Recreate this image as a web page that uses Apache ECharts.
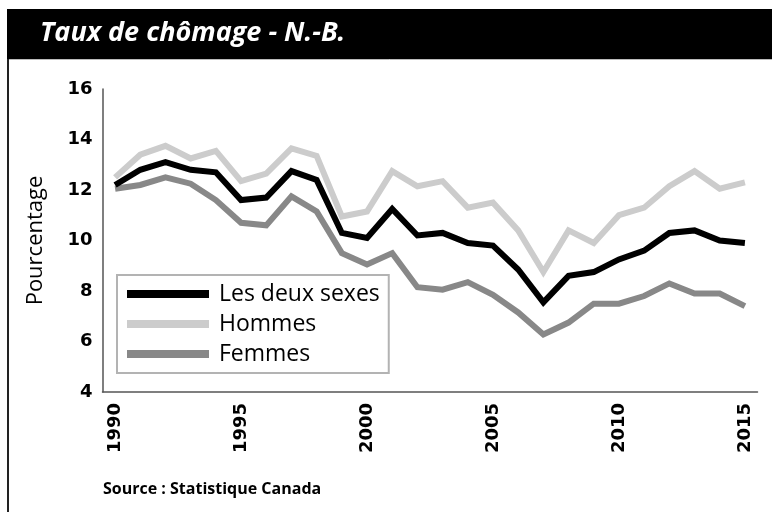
<!DOCTYPE html>
<html>

<head>
    <meta charset="utf-8">
</head>

<body style="margin: 0; background: #fff">
    <div id="container" style="width: 772px; height: 512px"></div>
    <script type="text/javascript" src="https://cdn.jsdelivr.net/npm/echarts/dist/echarts.min.js"></script>
    <script>
        var years = ['1990', '1991', '1992', '1993', '1994', '1995', '1996', '1997', '1998', '1999',
            '2000', '2001', '2002', '2003', '2004', '2005', '2006', '2007', '2008', '2009',
            '2010', '2011', '2012', '2013', '2014', '2015']
        var lesDeuxSexes = [12.2, 12.8, 13.1, 12.8, 12.7, 11.6, 11.7, 12.75, 12.4, 10.3,
            10.1, 11.25, 10.2, 10.3, 9.9, 9.8, 8.85, 7.55, 8.6, 8.75,
            9.25, 9.6, 10.3, 10.4, 10.0, 9.9]
        var hommes = [12.5, 13.4, 13.75, 13.25, 13.55, 12.35, 12.65, 13.65, 13.35, 10.95,
            11.15, 12.75, 12.15, 12.35, 11.3, 11.5, 10.4, 8.75, 10.4, 9.9,
            11.0, 11.3, 12.15, 12.75, 12.05, 12.3]
        var femmes = [12.05, 12.2, 12.5, 12.25, 11.6, 10.7, 10.6, 11.75, 11.15, 9.5,
            9.05, 9.5, 8.15, 8.05, 8.35, 7.85, 7.15, 6.28, 6.75, 7.5,
            7.5, 7.8, 8.3, 7.9, 7.9, 7.4]

        var myChart = echarts.init(document.getElementById('container'))

        var lineStyle = function (color) {
            return { color: color, width: 6, join: 'miter', cap: 'butt' }
        }

        var option = {
            animation: false,
            title: {
                text: 'Taux de chômage - N.-B.',
                left: 35,
                top: 15,
                textStyle: {
                    color: '#fff',
                    fontFamily: 'Open Sans',
                    fontSize: 27,
                    fontWeight: 'bold',
                    fontStyle: 'italic'
                }
            },
            graphic: [
                // bandeau noir du titre + cadre gauche
                { type: 'rect', z: -1, shape: { x: 7, y: 9, width: 765, height: 50 }, style: { fill: '#000' } },
                { type: 'line', shape: { x1: 7, y1: 59.5, x2: 772, y2: 59.5 }, style: { stroke: '#bbb', lineWidth: 1 } },
                { type: 'line', shape: { x1: 8, y1: 59, x2: 8, y2: 512 }, style: { stroke: '#222', lineWidth: 2 } },
                {
                    type: 'text', left: 103, top: 481,
                    style: { text: 'Source : Statistique Canada', fill: '#000', font: 'bold 16px "Open Sans"' }
                }
            ],
            legend: {
                orient: 'vertical',
                left: 117,
                top: 275,
                padding: [7, 9, 7, 10],
                itemGap: 6,
                itemWidth: 82,
                itemHeight: 8,
                borderColor: '#b3b3b3',
                borderWidth: 2,
                icon: 'rect',
                textStyle: { fontFamily: 'Open Sans', fontSize: 23, lineHeight: 24, color: '#000', padding: [0, 0, 0, 5] },
                data: ['Les deux sexes', 'Hommes', 'Femmes']
            },
            grid: {
                left: 102.5,
                right: 14.5,
                top: 89,
                bottom: 120
            },
            xAxis: {
                type: 'category',
                data: years,
                boundaryGap: true,
                axisLine: { lineStyle: { color: '#555', width: 1.5 } },
                axisTick: { inside: true, length: 8, interval: 0, lineStyle: { color: '#555' } },
                axisLabel: {
                    rotate: 90,
                    margin: 11,
                    color: '#000',
                    fontFamily: 'DejaVu Sans',
                    fontWeight: 'bold',
                    fontSize: 18,
                    interval: function (i) { return i % 5 === 0 }
                }
            },
            yAxis: {
                type: 'value',
                min: 4,
                max: 16,
                interval: 2,
                name: 'Pourcentage',
                nameLocation: 'middle',
                nameGap: 56,
                nameTextStyle: { fontFamily: 'Open Sans', fontSize: 22, color: '#000' },
                axisLine: { show: true, lineStyle: { color: '#555', width: 1.5 } },
                axisTick: { show: false },
                splitLine: { show: false },
                axisLabel: {
                    margin: 10,
                    color: '#000',
                    fontFamily: 'DejaVu Sans',
                    fontWeight: 'bold',
                    fontSize: 18
                }
            },
            series: [
                {
                    name: 'Les deux sexes', type: 'line', z: 4, showSymbol: false,
                    data: lesDeuxSexes, itemStyle: { color: '#000' }, lineStyle: lineStyle('#000')
                },
                {
                    name: 'Hommes', type: 'line', z: 3, showSymbol: false,
                    data: hommes, itemStyle: { color: '#cccccc' }, lineStyle: lineStyle('#cccccc')
                },
                {
                    name: 'Femmes', type: 'line', z: 2, showSymbol: false,
                    data: femmes, itemStyle: { color: '#888888' }, lineStyle: lineStyle('#888888')
                }
            ]
        }
        myChart.setOption(option)
    </script>

</body>

</html>
